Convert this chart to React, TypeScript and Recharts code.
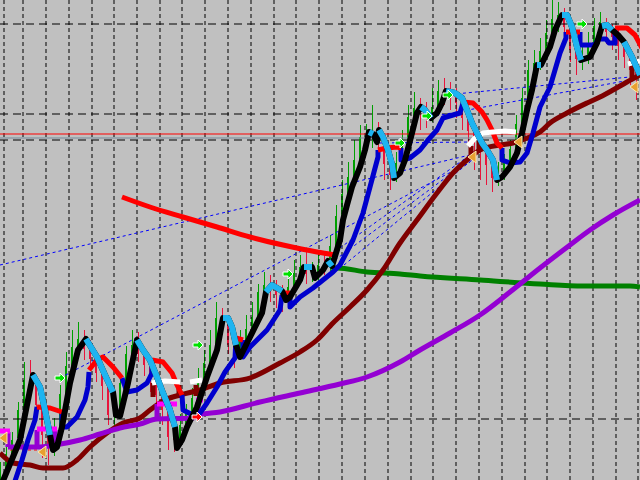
import React from "react"
import { ComposedChart, Line, Bar, Scatter, XAxis, YAxis } from "recharts"

// candles: [bar, open, high, low, close]
const candles: number[][] = [
  [0, 1.3004, 1.3018, 1.3000, 1.3011], [3, 1.3012, 1.3034, 1.3008, 1.3026], [6, 1.3025, 1.3048, 1.3020, 1.3040],
  [9, 1.3042, 1.3078, 1.3038, 1.3070], [12, 1.3068, 1.3118, 1.3062, 1.3100], [15, 1.3100, 1.3120, 1.3088, 1.3096],
  [18, 1.3096, 1.3104, 1.3066, 1.3075], [21, 1.3076, 1.3082, 1.3022, 1.3045], [24, 1.3044, 1.3055, 1.3015, 1.3032],
  [27, 1.3032, 1.3062, 1.3024, 1.3053], [30, 1.3052, 1.3095, 1.3046, 1.3086], [33, 1.3086, 1.3128, 1.3080, 1.3114],
  [36, 1.3114, 1.3150, 1.3108, 1.3133], [39, 1.3133, 1.3158, 1.3124, 1.3141], [42, 1.3141, 1.3150, 1.3120, 1.3131],
  [45, 1.3132, 1.3140, 1.3112, 1.3121], [48, 1.3121, 1.3128, 1.3098, 1.3107], [51, 1.3108, 1.3112, 1.3080, 1.3094],
  [54, 1.3094, 1.3100, 1.3055, 1.3065], [57, 1.3066, 1.3082, 1.3050, 1.3072], [60, 1.3072, 1.3104, 1.3066, 1.3097],
  [63, 1.3097, 1.3134, 1.3090, 1.3126], [66, 1.3126, 1.3150, 1.3118, 1.3135], [69, 1.3135, 1.3148, 1.3118, 1.3126],
  [72, 1.3126, 1.3132, 1.3104, 1.3115], [75, 1.3115, 1.3122, 1.3088, 1.3100], [78, 1.3100, 1.3106, 1.3070, 1.3085],
  [81, 1.3085, 1.3092, 1.3055, 1.3070], [84, 1.3070, 1.3076, 1.3030, 1.3043], [87, 1.3043, 1.3058, 1.3028, 1.3040],
  [90, 1.3040, 1.3066, 1.3034, 1.3055], [93, 1.3055, 1.3076, 1.3048, 1.3067], [96, 1.3067, 1.3092, 1.3060, 1.3082],
  [99, 1.3082, 1.3112, 1.3076, 1.3100], [102, 1.3100, 1.3130, 1.3094, 1.3117], [105, 1.3117, 1.3150, 1.3110, 1.3135],
  [108, 1.3135, 1.3178, 1.3128, 1.3162], [111, 1.3162, 1.3172, 1.3145, 1.3158], [114, 1.3158, 1.3165, 1.3126, 1.3135],
  [117, 1.3135, 1.3142, 1.3112, 1.3127], [120, 1.3127, 1.3150, 1.3120, 1.3139], [123, 1.3139, 1.3165, 1.3132, 1.3151],
  [126, 1.3151, 1.3178, 1.3145, 1.3163], [129, 1.3163, 1.3196, 1.3155, 1.3188], [132, 1.3188, 1.3208, 1.3170, 1.3195],
  [135, 1.3195, 1.3205, 1.3178, 1.3191], [138, 1.3191, 1.3200, 1.3172, 1.3185], [141, 1.3185, 1.3195, 1.3168, 1.3183],
  [144, 1.3183, 1.3205, 1.3176, 1.3193], [147, 1.3193, 1.3220, 1.3186, 1.3207], [150, 1.3207, 1.3225, 1.3198, 1.3213],
  [153, 1.3213, 1.3232, 1.3196, 1.3206], [156, 1.3206, 1.3218, 1.3198, 1.3207], [159, 1.3207, 1.3226, 1.3200, 1.3215],
  [162, 1.3215, 1.3228, 1.3205, 1.3214], [165, 1.3214, 1.3245, 1.3208, 1.3234], [168, 1.3234, 1.3275, 1.3228, 1.3264],
  [171, 1.3264, 1.3300, 1.3258, 1.3286], [174, 1.3286, 1.3318, 1.3278, 1.3303], [177, 1.3303, 1.3340, 1.3296, 1.3320],
  [180, 1.3320, 1.3355, 1.3314, 1.3343], [183, 1.3343, 1.3356, 1.3330, 1.3344], [186, 1.3344, 1.3375, 1.3332, 1.3348],
  [189, 1.3348, 1.3358, 1.3320, 1.3335], [192, 1.3335, 1.3342, 1.3300, 1.3316], [195, 1.3316, 1.3320, 1.3290, 1.3305],
  [198, 1.3305, 1.3328, 1.3298, 1.3317], [201, 1.3317, 1.3350, 1.3310, 1.3339], [204, 1.3339, 1.3375, 1.3333, 1.3363],
  [207, 1.3363, 1.3388, 1.3355, 1.3372], [210, 1.3372, 1.3382, 1.3350, 1.3366], [213, 1.3366, 1.3378, 1.3352, 1.3364],
  [216, 1.3364, 1.3392, 1.3358, 1.3373], [219, 1.3373, 1.3400, 1.3366, 1.3389], [222, 1.3389, 1.3402, 1.3375, 1.3388],
  [225, 1.3388, 1.3398, 1.3370, 1.3385], [228, 1.3385, 1.3392, 1.3362, 1.3377], [231, 1.3377, 1.3384, 1.3350, 1.3362],
  [234, 1.3362, 1.3370, 1.3335, 1.3349], [237, 1.3349, 1.3356, 1.3310, 1.3337], [240, 1.3337, 1.3345, 1.3300, 1.3328],
  [243, 1.3328, 1.3336, 1.3295, 1.3315], [246, 1.3315, 1.3322, 1.3288, 1.3302], [249, 1.3302, 1.3318, 1.3294, 1.3308],
  [252, 1.3308, 1.3326, 1.3300, 1.3317], [255, 1.3317, 1.3340, 1.3310, 1.3331], [258, 1.3331, 1.3365, 1.3325, 1.3356],
  [261, 1.3356, 1.3392, 1.3348, 1.3382], [264, 1.3382, 1.3420, 1.3375, 1.3410], [267, 1.3410, 1.3430, 1.3400, 1.3417],
  [270, 1.3417, 1.3442, 1.3410, 1.3429], [273, 1.3429, 1.3460, 1.3422, 1.3447], [276, 1.3447, 1.3480, 1.3440, 1.3461],
  [279, 1.3461, 1.3478, 1.3448, 1.3465], [282, 1.3465, 1.3472, 1.3440, 1.3453], [285, 1.3453, 1.3458, 1.3418, 1.3430],
  [288, 1.3430, 1.3440, 1.3405, 1.3421], [291, 1.3421, 1.3435, 1.3410, 1.3423], [294, 1.3423, 1.3448, 1.3416, 1.3435],
  [297, 1.3435, 1.3462, 1.3428, 1.3454], [300, 1.3454, 1.3468, 1.3440, 1.3458], [303, 1.3454, 1.3462, 1.3436, 1.3448],
  [306, 1.3448, 1.3456, 1.3430, 1.3443], [309, 1.3443, 1.3450, 1.3420, 1.3434], [312, 1.3434, 1.3440, 1.3412, 1.3423],
  [315, 1.3423, 1.3430, 1.3395, 1.3410], [318, 1.3410, 1.3418, 1.3380, 1.3400],
]

// fast MA: black when rising, sky blue on the runs listed in fastDownRuns
const fastMA: number[][] = [
  [0, 1.2992], [10, 1.3040], [16.5, 1.3105], [20, 1.3093], [22.5, 1.3070], [25, 1.3045], [26.5, 1.3030], [28.5, 1.3033], [31, 1.3053], [35, 1.3097],
  [39, 1.3130], [43, 1.3141], [48.5, 1.3123], [52.5, 1.3105], [56.5, 1.3088], [58, 1.3065], [60, 1.3064], [64, 1.3097], [68.5, 1.3140], [71.5, 1.3130],
  [75, 1.3120], [78.5, 1.3103], [81.5, 1.3087], [85, 1.3070], [87.5, 1.3053], [88.5, 1.3032], [91, 1.3040], [93.5, 1.3053], [98.5, 1.3073], [103.5, 1.3103],
  [108.5, 1.3130], [111.5, 1.3162], [114, 1.3162], [116, 1.3153], [118, 1.3135], [120, 1.3123], [123.5, 1.3137], [127.5, 1.3153], [131, 1.3167], [133, 1.3188],
  [136, 1.3195], [141, 1.3189], [143, 1.3180], [145, 1.3183], [150, 1.3200], [152, 1.3213], [156, 1.3213], [157.5, 1.3202], [161.5, 1.3210], [164, 1.3219],
  [166, 1.3214], [170, 1.3240], [171.5, 1.3260], [173.5, 1.3275], [176, 1.3293], [180, 1.3313], [182.5, 1.3330], [184.5, 1.3348], [186.5, 1.3346], [188.5, 1.3338],
  [189.5, 1.3350], [191.5, 1.3343], [194, 1.3330], [196, 1.3316], [197, 1.3302], [200, 1.3307], [202.5, 1.3320], [206, 1.3347], [208.5, 1.3367], [210.5, 1.3373],
  [212.5, 1.3370], [215.5, 1.3362], [218.5, 1.3367], [221, 1.3377], [223, 1.3389], [227.5, 1.3387], [231, 1.3382], [233.5, 1.3370], [236, 1.3357], [238.5, 1.3347],
  [241, 1.3337], [243.5, 1.3330], [246.5, 1.3320], [248.5, 1.3300], [251, 1.3303], [255, 1.3313], [258.5, 1.3327], [261, 1.3347], [263.5, 1.3370], [266, 1.3390],
  [268.5, 1.3415], [270.5, 1.3415], [275, 1.3433], [277.5, 1.3450], [281, 1.3465], [283.5, 1.3465], [286, 1.3453], [288.5, 1.3433], [290.5, 1.3420], [295, 1.3423],
  [298.5, 1.3437], [301, 1.3454], [303.5, 1.3455], [306, 1.3450], [309, 1.3445], [312, 1.3438], [316, 1.3423], [320, 1.3405],
]
const fastDownRuns = [[2, 5], [11, 14], [18, 24], [31, 34], [39, 41], [45, 46], [49, 50], [57, 58], [60, 64], [69, 71], [74, 83], [90, 91], [94, 98], [101, 103], [105, 107]]

// medium MA, blue up legs and red down legs (null = gap)
const midUp: (number | null)[][] = [
  [6, 1.2990], [11, 1.3020], [14, 1.3040], [17.5, 1.3060], [18.5, 1.3073], [18.5, null],
  [31, 1.3068], [31, 1.3053], [33.5, 1.3053], [38.5, 1.3063], [42.5, 1.3080], [44, 1.3093], [44.5, 1.3108], [44.5, null],
  [61, 1.3102], [63.5, 1.3088], [68.5, 1.3090], [73.5, 1.3097], [76, 1.3107], [76, 1.3118], [76, null],
  [91, 1.3085], [91.5, 1.3070], [96.5, 1.3065], [100, 1.3067], [103.5, 1.3077], [108.5, 1.3093], [112.5, 1.3108], [117.5, 1.3122], [118, 1.3142], [118, null],
  [121.5, 1.3140], [121.5, 1.3123], [125, 1.3133], [133.5, 1.3150], [140, 1.3170], [141, 1.3185], [141, null],
  [145, 1.3187], [145, 1.3173], [150, 1.3183], [156.5, 1.3192], [161.5, 1.3200], [166.5, 1.3208], [170, 1.3215], [176.5, 1.3240], [181.5, 1.3267], [185, 1.3293], [189, 1.3323], [189, 1.3330], [189, null],
  [200.5, 1.3332], [200.5, 1.3320], [205, 1.3322], [210, 1.3330], [214, 1.3340], [218.5, 1.3350], [221.5, 1.3362], [226.5, 1.3365], [230, 1.3367], [231.5, 1.3377], [231.5, null],
  [251, 1.3332], [251, 1.3320], [255, 1.3317], [260, 1.3318], [263.5, 1.3327], [266.5, 1.3347], [270, 1.3373], [275, 1.3393], [280, 1.3427], [283, 1.3442], [283, 1.3448], [283, null],
  [290, 1.3448], [290, 1.3435], [297.5, 1.3435], [299, 1.3441], [303, 1.3441], [304.5, 1.3437], [307.5, 1.3437], [307.5, 1.3451],
]
const midDown: (number | null)[][] = [
  [18.5, 1.3073], [25, 1.3072], [31, 1.3068], [31, null],
  [44.5, 1.3110], [48.5, 1.3120], [51.5, 1.3123], [56.5, 1.3113], [61, 1.3102], [61, null],
  [76, 1.3120], [81.5, 1.3118], [86, 1.3107], [88.5, 1.3095], [91, 1.3085], [91, null],
  [118, 1.3142], [121.5, 1.3140], [121.5, null],
  [141, 1.3187], [145, 1.3187], [145, null],
  [189, 1.3330], [193.5, 1.3332], [198.5, 1.3333], [200.5, 1.3332], [200.5, null],
  [231.5, 1.3378], [236.5, 1.3377], [241, 1.3368], [243.5, 1.3360], [246, 1.3350], [248.5, 1.3337], [251, 1.3332], [251, null],
  [283, 1.3448], [290, 1.3448], [290, null],
  [307.5, 1.3452], [313.5, 1.3452], [317.5, 1.3445], [321, 1.3432],
]

const whiteMA: (number | null)[][] = [
  [76, 1.3097], [82.5, 1.3099], [90, 1.3098], [90, null], [95, 1.3098], [101, 1.3100], [101, null],
  [234, 1.3334], [237.5, 1.3342], [241.5, 1.3347], [246.5, 1.3348], [252.5, 1.3349], [258, 1.3348], [258, null],
  [314, 1.3416], [320, 1.3419],
]
const maroonBlocks: (number | null)[][] = [
  [76.5, 1.3097], [76.5, 1.3083], [76.5, null], [89.5, 1.3095], [89.5, 1.3082], [89.5, null], [98, 1.3095], [98, 1.3084], [98, null],
  [235.5, 1.3334], [235.5, 1.3320], [235.5, null], [239.5, 1.3340], [239.5, 1.3328], [239.5, null], [316, 1.3415], [316, 1.3400],
]

const slowMA: number[][] = [
  [0, 1.3027], [6.5, 1.3017], [15, 1.3015], [21.5, 1.3012], [31.5, 1.3012], [38.5, 1.3020], [45, 1.3033], [53.5, 1.3047], [61.5, 1.3057], [70, 1.3062],
  [75, 1.3070], [82.5, 1.3080], [90, 1.3085], [100, 1.3090], [110, 1.3097], [125, 1.3102], [140, 1.3117], [150, 1.3128], [158.5, 1.3140], [166.5, 1.3157],
  [175, 1.3173], [183.5, 1.3190], [191.5, 1.3210], [200, 1.3237], [208.5, 1.3260], [218.5, 1.3287], [226.5, 1.3307], [233.5, 1.3320], [240, 1.3330], [250, 1.3335],
  [256.5, 1.3337], [263.5, 1.3342], [270, 1.3348], [275, 1.3357], [283.5, 1.3367], [293.5, 1.3377], [300, 1.3383], [306.5, 1.3390], [313.5, 1.3398], [320, 1.3405],
]

const purpleMA: number[][] = [
  [4, 1.3033], [18.5, 1.3033], [27.5, 1.3035], [40, 1.3040], [50, 1.3046], [60, 1.3052], [70, 1.3056], [78.5, 1.3061], [96.5, 1.3062], [99, 1.3065],
  [110, 1.3068], [130, 1.3078], [150, 1.3087], [170, 1.3096], [183.5, 1.3103], [200, 1.3118], [210, 1.3130], [225, 1.3147], [240, 1.3165], [255, 1.3188],
  [270, 1.3212], [285, 1.3235], [295, 1.3250], [306.5, 1.3265], [320, 1.3280],
]
const purpleSteps: (number | null)[][] = [
  [4, 1.3048], [4, 1.3033], [4, null], [18.5, 1.3050], [18.5, 1.3033], [18.5, null], [27.5, 1.3050], [27.5, 1.3035], [27.5, null],
  [78.5, 1.3076], [78.5, 1.3061], [78.5, null], [99, 1.3078], [99, 1.3065],
]
const magentaSteps: (number | null)[][] = [
  [0, 1.3049], [5, 1.3049], [5, null], [18.5, 1.3051], [28.5, 1.3051], [28.5, null],
  [78.5, 1.3076], [88.5, 1.3076], [88.5, null], [98, 1.3080], [101.5, 1.3080],
]

const greenMA: number[][] = [
  [166, 1.3222], [166.5, 1.3212], [168.5, 1.3212], [183.5, 1.3208], [200, 1.3206], [210, 1.3204], [240, 1.3200], [270, 1.3196], [291.5, 1.3194], [315, 1.3194], [320, 1.3193],
]
const redCurve: number[][] = [
  [61, 1.3283], [75, 1.3273], [91.5, 1.3263], [108.5, 1.3253], [125, 1.3243], [141.5, 1.3235], [158.5, 1.3228], [167.5, 1.3225],
]
const stopLine: number[][] = [[5, 1.3030], [20, 1.3030]]

// trend lines: [t1, p1, t2, p2]
const trendLines = [
  [0, 1.3215, 235, 1.3325], [30, 1.3102, 235, 1.3318], [165, 1.3225, 235, 1.3325], [167.5, 1.3220, 236, 1.3322],
  [172, 1.3215, 236, 1.3320], [190, 1.3337, 235, 1.3338], [222.5, 1.3385, 315, 1.3403], [215, 1.3363, 315, 1.3400],
]
const redLevel = 1.3346
const grayLevel = 1.3342
const gridTimes = [2, 11.5, 23, 34.5, 46, 57, 68.5, 80, 91, 102.5, 114, 125.5, 137, 148, 159.5, 171, 182.5, 194, 205.5, 216.5, 228, 239.5, 251, 262.5, 273.5, 285, 296.5, 308, 319]
const gridPrices = [1.3456, 1.3366, 1.3340, 1.3061]

const buyArrows = [[30, 1.3102], [99, 1.3135], [144, 1.3206], [200, 1.3337], [213.5, 1.3364], [224, 1.3385], [291, 1.3456]]
const exitArrows = [[1.5, 1.3042], [21, 1.3028], [236, 1.3323], [259, 1.3338], [317, 1.3393]]
const sellArrows = [[98.5, 1.3063]]

const PMIN = 1.3
const PMAX = 1.348

const rows = (arr: (number | null)[][]) => arr.map(([t, v]) => ({ t, v }))

const cyanRows: { t: number; v: number | null }[] = []
fastDownRuns.forEach(([a, b]) => {
  for (let i = a; i <= b; i++) cyanRows.push({ t: fastMA[i][0], v: fastMA[i][1] })
  cyanRows.push({ t: fastMA[b][0], v: null })
})

const candleRows = candles.map(([t, o, h, l, c]) => ({ t, o, h, l, c }))

const CandleShape = (props: any) => {
  const { x, y, width, height } = props
  const d = props.payload && props.payload.o != null ? props.payload : props
  if (x == null || d.o == null) return null
  const top = Math.min(y, y + height)
  const bot = Math.max(y, y + height)
  const { o, h, l, c } = d
  const span = h - l || 1
  const py = (v: number) => top + ((h - v) / span) * (bot - top)
  const cx = Math.round(x + width / 2)
  const color = c >= o ? "#00A000" : "#E8143C"
  const bt = py(Math.max(o, c))
  const bb = py(Math.min(o, c))
  return (
    <g shapeRendering="crispEdges">
      <rect x={cx} y={top} width={1} height={bot - top} fill={color} />
      <rect x={cx - 1} y={bt} width={2} height={Math.max(1, bb - bt)} fill={color} />
    </g>
  )
}

const rightArrow = (fill: string) => (props: any) => {
  const { cx, cy } = props
  if (cx == null) return null
  const pts = [[-5, -2], [0, -2], [0, -5], [5, 0], [0, 5], [0, 2], [-5, 2]]
  return <polygon points={pts.map(([dx, dy]) => `${cx + dx},${cy + dy}`).join(" ")} fill={fill} stroke="#fff" strokeWidth={1} />
}
const leftTriangle = (props: any) => {
  const { cx, cy } = props
  if (cx == null) return null
  const pts = [[4, -6], [-4, 0], [4, 6]]
  return <polygon points={pts.map(([dx, dy]) => `${cx + dx},${cy + dy}`).join(" ")} fill="#E8A030" stroke="#FFE8B0" strokeWidth={1} />
}

function line(key: string, data: any[], stroke: string, width: number, dash?: string, curve: "linear" | "monotone" = "linear") {
  return (
    <Line
      key={key}
      data={data}
      dataKey="v"
      type={curve}
      stroke={stroke}
      strokeWidth={width}
      strokeDasharray={dash}
      strokeLinejoin="round"
      dot={false}
      activeDot={false}
      connectNulls={false}
      isAnimationActive={false}
      legendType="none"
    />
  )
}

export default function App() {
  return (
    <div style={{ position: "fixed", left: 0, top: 0, width: 640, height: 480, background: "#C0C0C0" }}>
      <ComposedChart width={640} height={480} data={candleRows} margin={{ top: 0, right: 0, bottom: 0, left: 0 }}>
        <XAxis dataKey="t" type="number" domain={[0, 320]} allowDataOverflow hide />
        <YAxis type="number" domain={[PMIN, PMAX]} allowDataOverflow hide />
        <Bar dataKey={(d: any) => [d.l, d.h]} barSize={3} shape={CandleShape} isAnimationActive={false} legendType="none" />
        {gridTimes.map((t) => line(`gx${t}`, rows([[t, PMIN], [t, PMAX]]), "#000", 1, "4 3"))}
        {gridPrices.map((p) => line(`gy${p}`, rows([[0, p], [320, p]]), "#000", 1, "8 5"))}
        {line("redLevel", rows([[0, redLevel], [320, redLevel]]), "#FF0000", 1)}
        {line("grayLevel", rows([[0, grayLevel], [320, grayLevel]]), "#778899", 1)}
        {trendLines.map(([t1, p1, t2, p2], i) => line(`tl${i}`, rows([[t1, p1], [t2, p2]]), "#0000FF", 1, "3 3"))}
        {line("stop", rows(stopLine), "#FF0000", 1, "3 3")}
        {line("green", rows(greenMA), "#008000", 5, undefined, "monotone")}
        {line("redCurve", rows(redCurve), "#FF0000", 5, undefined, "monotone")}
        {line("slow", rows(slowMA), "#800000", 5, undefined, "monotone")}
        {line("purple", rows(purpleMA), "#9400D3", 5, undefined, "monotone")}
        {line("purpleSteps", rows(purpleSteps), "#9400D3", 5)}
        {line("magenta", rows(magentaSteps), "#FF00FF", 5)}
        {line("maroonBlocks", rows(maroonBlocks), "#800000", 5)}
        {line("midUp", rows(midUp), "#0000CD", 5)}
        {line("midDown", rows(midDown), "#FF0000", 5)}
        {line("white", rows(whiteMA), "#FFFFFF", 5)}
        {line("fast", rows(fastMA), "#000000", 6)}
        {line("fastDown", cyanRows, "#1EB4F0", 6)}
        <Scatter data={rows(buyArrows)} dataKey="v" shape={rightArrow("#00E000")} isAnimationActive={false} legendType="none" />
        <Scatter data={rows(sellArrows)} dataKey="v" shape={rightArrow("#FF0000")} isAnimationActive={false} legendType="none" />
        <Scatter data={rows(exitArrows)} dataKey="v" shape={leftTriangle} isAnimationActive={false} legendType="none" />
      </ComposedChart>
    </div>
  )
}
